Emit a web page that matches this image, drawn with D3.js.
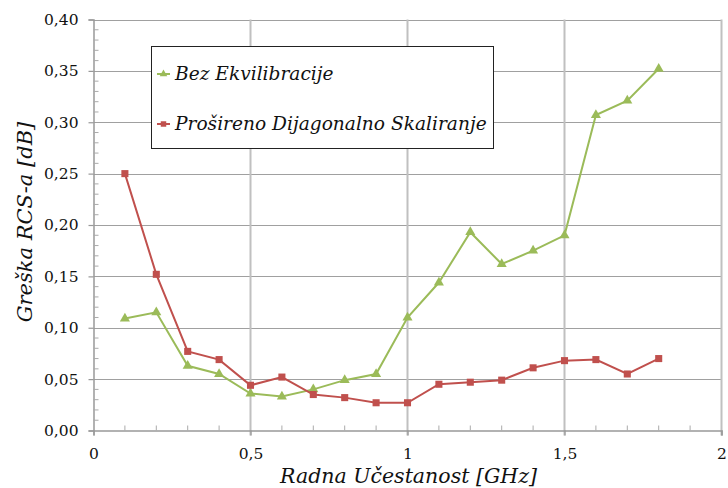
<!DOCTYPE html>
<html><head><meta charset="utf-8">
<script src="https://cdn.jsdelivr.net/npm/d3@7"></script>
<style>body{margin:0;background:#fff}svg{display:block}</style>
</head><body>
<script>
const frequencies = [0.1,0.2,0.3,0.4,0.5,0.6,0.7,0.8,0.9,1.0,1.1,1.2,1.3,1.4,1.5,1.6,1.7,1.8];
const bezEkvilibracije = [0.109,0.115,0.063,0.055,0.036,0.033,0.040,0.049,0.055,0.110,0.144,0.193,0.162,0.175,0.190,0.307,0.321,0.352];
const prosirenoDS = [0.250,0.152,0.077,0.069,0.044,0.052,0.035,0.032,0.027,0.027,0.045,0.047,0.049,0.061,0.068,0.069,0.055,0.070];
const seriesNames = ["Bez Ekvilibracije","Prošireno Dijagonalno Skaliranje"];
const xTicks = [0,0.5,1,1.5,2];
const xTickLabels = ["0","0,5","1","1,5","2"];
const yTicks = [0,0.05,0.1,0.15,0.2,0.25,0.3,0.35,0.4];
const xTitle = "Radna Učestanost [GHz]";
const yTitle = "Greška RCS-a [dB]";

const W=728,H=488;
const L=93.5,R=721.5,T=19.5,B=430.5;
const FONT="'DejaVu Serif', serif";
const svg=d3.select("body").append("svg").attr("width",W).attr("height",H);
const x=d3.scaleLinear().domain([0,2]).range([L,R]);
const y=d3.scaleLinear().domain([0,0.4]).range([B,T]);

// horizontal grid
svg.append("g").selectAll("line").data(yTicks.filter(d=>d>0)).join("line")
  .attr("x1",L).attr("x2",R).attr("y1",d=>Math.round(y(d))+0.5).attr("y2",d=>Math.round(y(d))+0.5)
  .attr("stroke","#a0a0a0").attr("stroke-width",1.2);
// vertical grid
svg.append("g").selectAll("line").data(xTicks.filter(d=>d>0)).join("line")
  .attr("x1",d=>x(d)).attr("x2",d=>x(d)).attr("y1",T).attr("y2",B+5)
  .attr("stroke","#c0c0c0").attr("stroke-width",2);

// y axis
const yAxis=d3.axisLeft(y).tickValues(yTicks).tickFormat(d=>d3.format(".2f")(d).replace(".",",")).tickSize(5).tickPadding(10);
const gy=svg.append("g").attr("transform",`translate(${L},0)`).call(yAxis);
gy.select(".domain").attr("stroke","#999").attr("stroke-width",1.5);
gy.selectAll(".tick line").attr("stroke","#999").attr("stroke-width",1.2);
gy.selectAll("text").attr("font-family",FONT).attr("font-size",15.5).attr("fill","#111");
// y minor ticks (inside)
svg.append("g").selectAll("line").data(d3.range(0,41).filter(i=>i%5!==0).map(i=>i/100)).join("line")
  .attr("x1",L).attr("x2",L+5).attr("y1",d=>y(d)).attr("y2",d=>y(d)).attr("stroke","#aaa").attr("stroke-width",1);

// x axis
const xAxis=d3.axisBottom(x).tickValues(xTicks).tickFormat((d,i)=>xTickLabels[i]).tickSize(5).tickPadding(12);
const gx=svg.append("g").attr("transform",`translate(0,${B})`).call(xAxis);
gx.select(".domain").attr("stroke","#999").attr("stroke-width",1.5);
gx.selectAll(".tick line").attr("stroke","#999").attr("stroke-width",1.2);
gx.selectAll("text").attr("font-family",FONT).attr("font-size",15.5).attr("fill","#111");
svg.append("g").selectAll("line").data(d3.range(1,20).filter(i=>i%5!==0).map(i=>i/10)).join("line")
  .attr("x1",d=>x(d)).attr("x2",d=>x(d)).attr("y1",B).attr("y2",B-5).attr("stroke","#aaa").attr("stroke-width",1);

// titles
svg.append("text").attr("x",(L+R)/2+1).attr("y",483).attr("text-anchor","middle")
  .attr("font-family",FONT).attr("font-style","italic").attr("font-size",20.5).attr("fill","#111").text(xTitle);
svg.append("text").attr("transform",`translate(32,${(T+B)/2-3}) rotate(-90)`).attr("text-anchor","middle")
  .attr("font-family",FONT).attr("font-style","italic").attr("font-size",21).attr("fill","#111").text(yTitle);

const line=d3.line().x((d,i)=>x(frequencies[i])).y(d=>y(d));
const green="#9BBB59", red="#C0504D";
const tri=d3.symbol().type(d3.symbolTriangle).size(44);
const sq=d3.symbol().type(d3.symbolSquare).size(50);

svg.append("path").datum(bezEkvilibracije).attr("d",line).attr("fill","none").attr("stroke",green).attr("stroke-width",2);
svg.append("g").selectAll("path").data(bezEkvilibracije).join("path")
  .attr("d",tri).attr("transform",(d,i)=>`translate(${x(frequencies[i])},${y(d)})`).attr("fill",green);
svg.append("path").datum(prosirenoDS).attr("d",line).attr("fill","none").attr("stroke",red).attr("stroke-width",2);
svg.append("g").selectAll("path").data(prosirenoDS).join("path")
  .attr("d",sq).attr("transform",(d,i)=>`translate(${x(frequencies[i])},${y(d)})`).attr("fill",red);

// legend
const lg=svg.append("g");
lg.append("rect").attr("x",151.5).attr("y",46.5).attr("width",342).attr("height",102)
  .attr("fill","#fff").attr("stroke","#222").attr("stroke-width",1);
const cols=[green,red], ly=[74,124];
seriesNames.forEach((n,i)=>{
  lg.append("line").attr("x1",157).attr("x2",170).attr("y1",ly[i]).attr("y2",ly[i]).attr("stroke",cols[i]).attr("stroke-width",2);
  lg.append("path").attr("d",d3.symbol().type(i===0?d3.symbolTriangle:d3.symbolSquare).size(i===0?25:30)).attr("transform",`translate(163.5,${ly[i]})`).attr("fill",cols[i]);
  lg.append("text").attr("x",175).attr("y",ly[i]+6).attr("font-family",FONT).attr("font-style","italic").attr("font-size",18.6).attr("fill","#111").text(n);
});
</script>
</body></html>
